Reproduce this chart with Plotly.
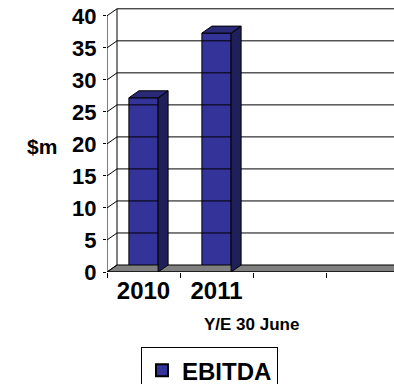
import plotly.graph_objects as go

# ---- data ----
categories = ["2010", "2011", "", ""]
ebitda = [27.2, 37.3]
y_ticks = [0, 5, 10, 15, 20, 25, 30, 35, 40]
series_name = "EBITDA"
x_title = "Y/E 30 June"
y_title = "$m"

# ---- style / geometry (pixel-based) ----
W, H = 394, 384
px_left, px_zero = 107, 272
px_per_cat = 73.0
px_per_unit = 6.4
depth_px = (10, 7)
bar_w = 0.4
y_top = 42.0
x0 = -0.5
x_end = x0 + (W - px_left) / px_per_cat
dx = depth_px[0] / px_per_cat
dy = depth_px[1] / px_per_unit

FRONT = "#333399"
TOP = "#292978"
SIDE = "#1f1f5a"
FLOOR = "#808080"
FONT = "Liberation Sans"

fig = go.Figure()

def poly(xs, ys, fill, line="black", width=1):
    fig.add_trace(go.Scatter(x=xs + [xs[0]], y=ys + [ys[0]], mode="lines",
                             fill="toself", fillcolor=fill,
                             line=dict(color=line, width=width),
                             hoverinfo="skip", showlegend=False))

def seg(xs, ys, color="black", width=1):
    fig.add_trace(go.Scatter(x=xs, y=ys, mode="lines",
                             line=dict(color=color, width=width),
                             hoverinfo="skip", showlegend=False))

# floor
poly([x0, x0 + dx, x_end + 1, x_end + 1], [0, dy, dy, 0], FLOOR)
# back-wall gridlines and side-wall diagonals
for v in y_ticks:
    if v > 0:
        seg([x0 + dx, x_end + 1], [v + dy, v + dy])
    seg([x0, x0 + dx], [v, v + dy])
# left wall back edge
seg([x0 + dx, x0 + dx], [dy, y_ticks[-1] + dy])
# front y axis
seg([x0, x0], [0, y_ticks[-1]])

# bars
for i, v in enumerate(ebitda):
    l, r = i - bar_w / 2, i + bar_w / 2
    poly([r, r + dx, r + dx, r], [0, dy, v + dy, v], SIDE)
    poly([l, l + dx, r + dx, r], [v, v + dy, v + dy, v], TOP)

fig.add_trace(go.Bar(x=list(range(len(ebitda))), y=ebitda, width=bar_w,
                     marker=dict(color=FRONT, line=dict(color="black", width=1)),
                     name=series_name, showlegend=True, hoverinfo="skip"))

# front floor edge
seg([x0, x_end + 1], [0, 0])

plot_w = W - px_left
plot_h = y_top * px_per_unit

def px_to_paper(px, py):
    return (px - px_left) / plot_w, (px_zero - py) / plot_h

tx, ty = px_to_paper(251, 324)
yx, yy = px_to_paper(42, 147)

fig.update_layout(
    width=W, height=H,
    margin=dict(l=px_left, r=0, t=px_zero - plot_h, b=H - px_zero, autoexpand=False),
    paper_bgcolor="white", plot_bgcolor="white",
    font=dict(family=FONT, color="black"),
    showlegend=True,
    legend=dict(x=px_to_paper(141, 0)[0], xanchor="left",
                y=px_to_paper(0, 347)[1], yanchor="top",
                bordercolor="black", borderwidth=1,
                font=dict(size=24, family=FONT, weight="bold"),
                itemsizing="constant"),
    xaxis=dict(range=[x0, x_end], showgrid=False, zeroline=False, automargin=False,
               tickvals=[k - 0.5 for k in range(len(categories))],
               ticks="outside", ticklen=5, tickcolor="black",
               showticklabels=False),
    xaxis2=dict(range=[x0, x_end], overlaying="x", side="bottom", automargin=False,
                showgrid=False, zeroline=False,
                tickvals=list(range(len(categories))), ticktext=categories,
                ticks="", ticklabelstandoff=2,
                tickfont=dict(size=24, weight="bold")),
    yaxis=dict(range=[0, y_top], showgrid=False, zeroline=False, automargin=False,
               tickvals=y_ticks, ticks="outside", ticklen=3, tickcolor="black",
               tickfont=dict(size=22, weight="bold"),
               ticklabelstandoff=2),
    annotations=[
        dict(text=x_title, xref="paper", yref="paper", x=tx, y=ty,
             xanchor="center", yanchor="middle", showarrow=False,
             font=dict(size=17, weight="bold")),
        dict(text=y_title, xref="paper", yref="paper", x=yx, y=yy,
             xanchor="center", yanchor="middle", showarrow=False,
             font=dict(size=21, weight="bold")),
    ],
)
fig.add_trace(go.Scatter(x=[None], y=[None], xaxis="x2", showlegend=False))

fig.write_html("out.html")
